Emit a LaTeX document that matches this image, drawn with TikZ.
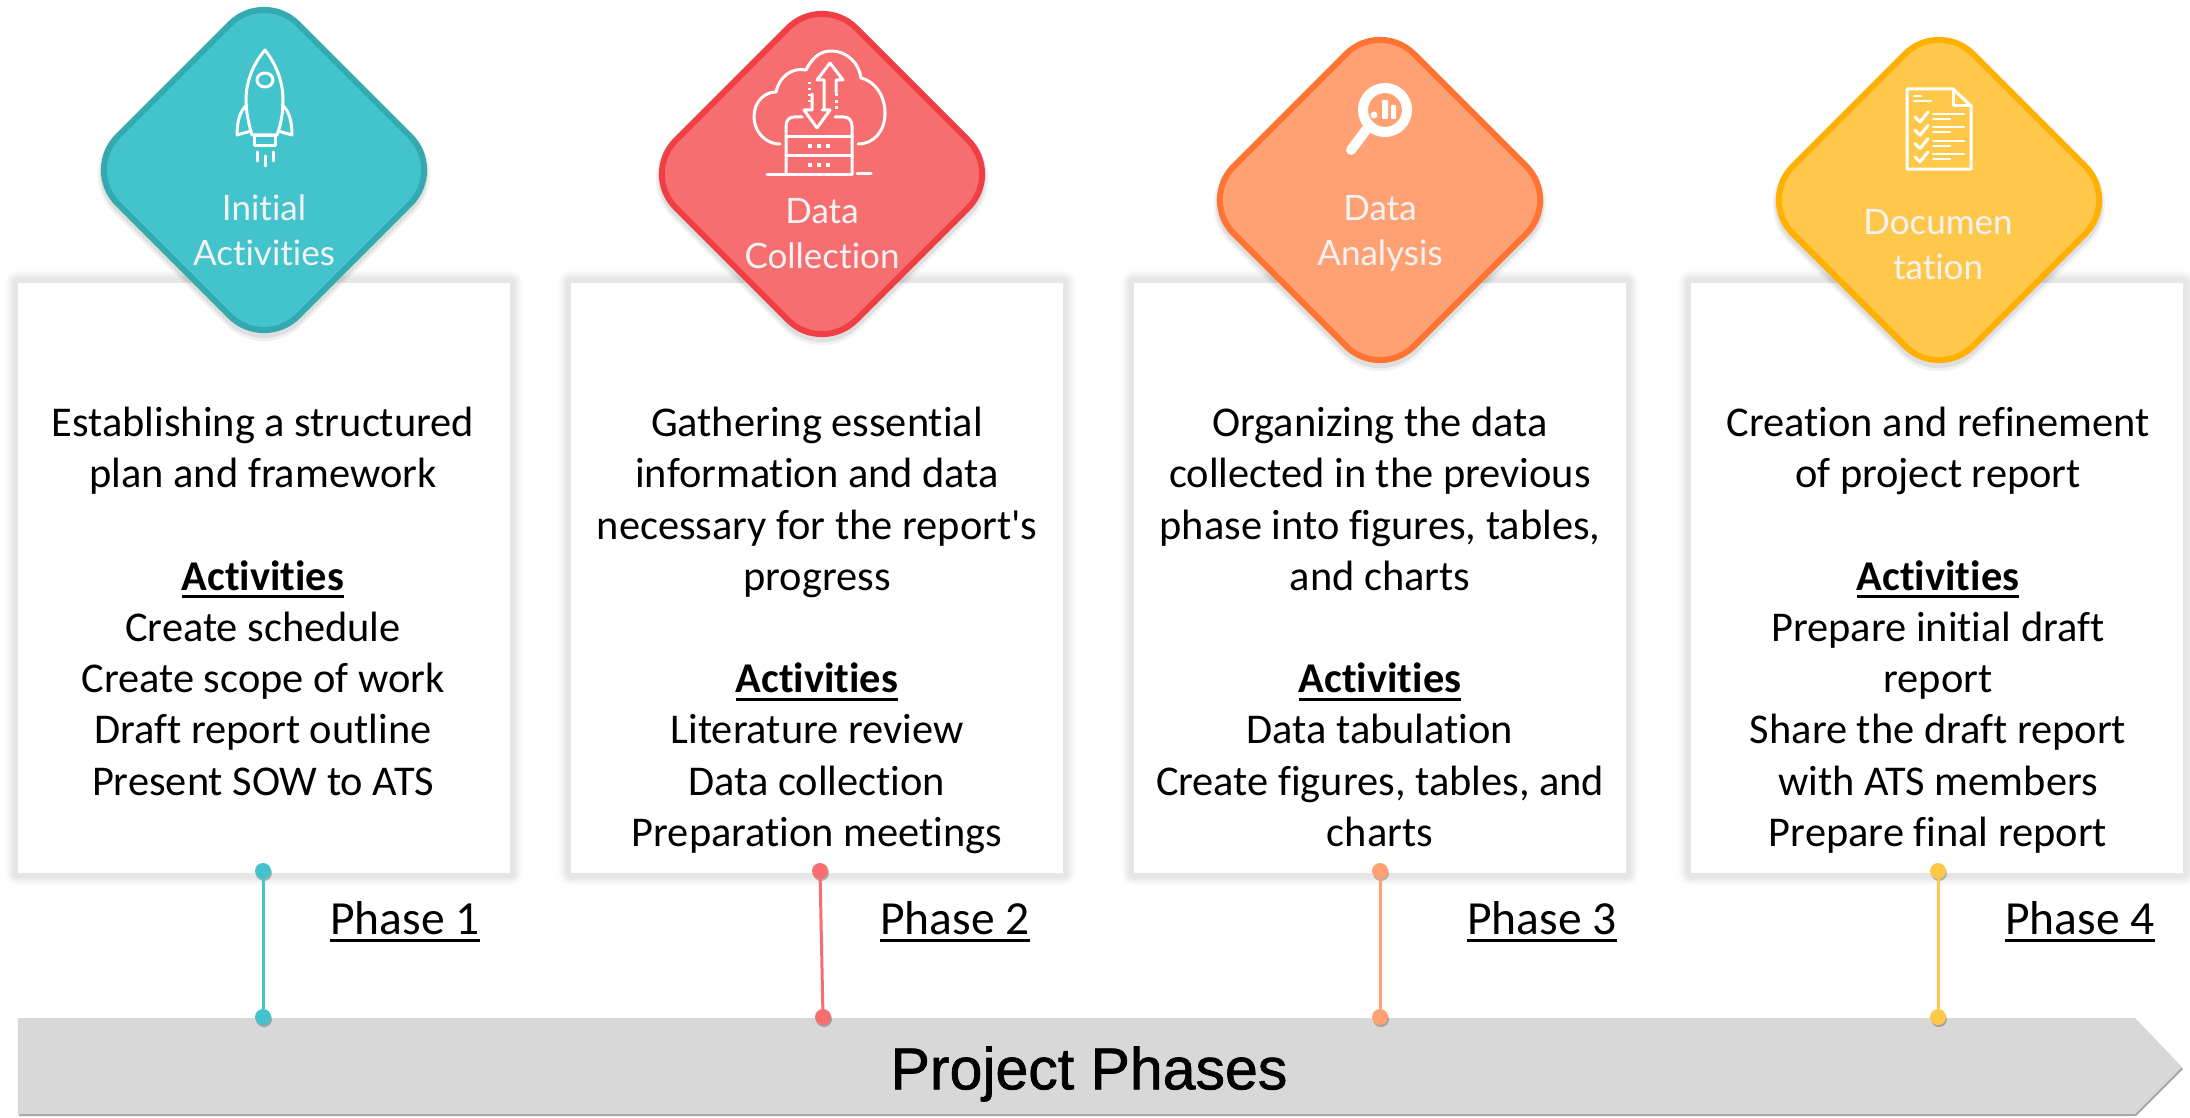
\documentclass[tikz,border=0pt]{standalone}
\usepackage{fontspec}
\setmainfont{Carlito}[Ligatures=NoCommon]
\newfontfamily\diamondfont{Lato}[Ligatures=NoCommon]
\newfontfamily\bandfont{Liberation Sans}[FakeBold=1.2]
\usetikzlibrary{shapes.geometric,positioning}
\definecolor{tealfill}{HTML}{43C3CB}
\definecolor{tealedge}{HTML}{33A9B0}
\definecolor{redfill}{HTML}{F66E70}
\definecolor{rededge}{HTML}{EF3F44}
\definecolor{orangefill}{HTML}{FFA173}
\definecolor{orangeedge}{HTML}{FF7433}
\definecolor{yellowfill}{HTML}{FFC84B}
\definecolor{yellowedge}{HTML}{FFB000}
\definecolor{bandgray}{HTML}{D8D8D8}
\definecolor{labelwhite}{HTML}{F2F2F2}
\tikzstyle{boxglow} = [preaction={draw=black,opacity=0.012,line width=26pt},preaction={draw=black,opacity=0.02,line width=22pt},preaction={draw=black,opacity=0.025,line width=18pt},preaction={draw=black,opacity=0.025,line width=14pt},preaction={draw=black,opacity=0.02,line width=10pt}]
\tikzstyle{phasebox} = [rectangle, fill=white, line join=round, minimum width=492pt, minimum height=590pt, inner sep=0pt, outer sep=0pt, boxglow]
\tikzstyle{tilt} = [diamond, aspect=1, minimum width=360pt, minimum height=360pt, inner sep=0pt, outer sep=0pt, rounded corners=48pt, line width=6pt, preaction={draw=black,opacity=0.05,line width=12pt,transform canvas={yshift=-5pt}},preaction={draw=black,opacity=0.08,line width=8pt,transform canvas={yshift=-4pt}}]
\tikzstyle{tiltlabel} = [text=labelwhite, align=center, inner sep=0pt, font=\diamondfont\fontsize{35}{45}\selectfont]
\tikzstyle{bodytext} = [align=center, anchor=north, inner sep=0pt, font=\fontsize{42.4}{51.2}\selectfont]
\tikzstyle{phaselabel} = [anchor=base, inner sep=0pt, font=\fontsize{47.5}{50}\selectfont]
\tikzstyle{pin} = [circle, minimum size=16pt, inner sep=0pt, outer sep=0pt, preaction={fill=black,opacity=0.25,transform canvas={xshift=1pt,yshift=-2pt}}]
\tikzstyle{stem} = [draw, line width=3pt]
\tikzstyle{band} = [fill=bandgray, preaction={fill=black!35,transform canvas={xshift=1pt,yshift=-2pt}}]
\tikzstyle{icon} = [draw=white, line width=3pt, line cap=round, line join=round]
\tikzstyle{iconfill} = [fill=white, draw=none]
\newcommand{\ultext}[2]{\setbox0=\hbox{#2}\rlap{\rule[-#1]{\wd0}{3pt}}\box0}
\newcommand{\phasebox}[2]{node (b#1) [phasebox] {#2}}
\newcommand{\tilt}[3]{node (d#1) [tilt, fill=#2fill, draw=#2edge] {#3}}
\newcommand{\tiltlabel}[2]{node (l#1) [tiltlabel] {#2}}
\newcommand{\bodytext}[2]{node (t#1) [bodytext] {#2}}
\newcommand{\phaselabel}[2]{node (n#1) [phaselabel] {\ultext{8pt}{#2}}}
\newcommand{\pin}[2]{node (#1) [pin, fill=#2fill] {}}
\newcommand{\activities}{\textbf{\ultext{8pt}{Activities}}}

\begin{document}
\begin{tikzpicture}[x=100pt,y=100pt]
\useasboundingbox (0,0) rectangle (21.9,-11.18);
% Arrow along the bottom
\path [band] (0.18,-10.18) -- (21.35,-10.18) -- (21.82,-10.67) -- (21.35,-11.14) -- (0.18,-11.14) -- cycle;
\path (10.89,-10.74) node (title) [font=\bandfont\fontsize{59}{60}\selectfont, inner sep=0pt] {Project Phases};

% Boxes
\path (2.64,-5.78) \phasebox{1}{};
\path (b1)+(5.53,0.0) \phasebox{2}{};
\path (b2)+(5.63,0.0) \phasebox{3}{};
\path (b3)+(5.57,0.0) \phasebox{4}{};

% Diamonds
\path (b1)+(0.0,4.08) \tilt{1}{teal}{};
\path (b2)+(0.05,4.04) \tilt{2}{red}{};
\path (b3)+(0.0,3.78) \tilt{3}{orange}{};
\path (b4)+(0.02,3.78) \tilt{4}{yellow}{};
\path (d1)+(0.0,-0.605) \tiltlabel{1}{Initial\\ Activities};
\path (d2)+(0.0,-0.60) \tiltlabel{2}{Data\\ Collection};
\path (d3)+(0.0,-0.335) \tiltlabel{3}{Data\\ Analysis};
\path (d4)+(-0.01,-0.445) \tiltlabel{4}{Documen\\ tation};

% Rocket
\begin{scope}[shift={(d1)},x=1pt,y=1pt]
\draw [icon] (1,120) .. controls (-10,107) and (-18,90) .. (-18,70) .. controls (-18,58) and (-15,45) .. (-12,35) -- (13,35) .. controls (17,45) and (19,58) .. (19,70) .. controls (19,90) and (11,107) .. (1,120) -- cycle;
\draw [icon] (1,90) ellipse (8 and 7);
\draw [icon] (-17,65) .. controls (-24,60) and (-27,48) .. (-27,35) -- (-13,39);
\draw [icon] (18,65) .. controls (25,60) and (28,48) .. (28,35) -- (14,39);
\draw [icon] (-10,34) rectangle (11,24);
\draw [icon] (-7,18) -- (-7,9);
\draw [icon] (1,14) -- (1,4);
\draw [icon] (9,18) -- (9,9);
\end{scope}

% Cloud and server
\begin{scope}[shift={(d2)},x=1pt,y=1pt]
\draw [icon] (-42,30) .. controls (-58,30) and (-68,44) .. (-68,57) .. controls (-68,72) and (-58,82) .. (-46,82) .. controls (-43,97) and (-30,107) .. (-16,104) .. controls (-10,116) and (-2,123) .. (9,123) .. controls (26,123) and (37,110) .. (39,96) .. controls (53,93) and (63,78) .. (63,61) .. controls (63,43) and (52,30) .. (36,30);
\draw [icon] (-20,57) -- (-28,57) .. controls (-33,57) and (-36,53) .. (-36,48) -- (-36,0);
\draw [icon] (13,57) -- (22,57) .. controls (27,57) and (30,53) .. (30,48) -- (30,0);
\draw [icon] (-36,38) -- (30,38);
\draw [icon] (-36,19) -- (30,19);
\draw [icon] (-55,0) -- (30,0);
\draw [icon] (35,1) -- (49,1);
\draw [icon] (8,111) -- (21,94) -- (14,94) -- (14,82);
\draw [icon] (8,111) -- (-5,94) -- (2,94) -- (2,65);
\draw [icon] (-5,46) -- (8,64) -- (0,64);
\draw [icon] (-5,46) -- (-18,64) -- (-10,64) -- (-10,80);
\foreach \yy in {90,84,78,72} \path [iconfill] (-14.5,\yy) rectangle (-11.5,\yy+2);
\foreach \yy in {78,71,65} \path [iconfill] (12.5,\yy) rectangle (15.5,\yy+3);
\foreach \yy in {28,9} {
\foreach \xx in {-12,-3,6} \path [iconfill] (\xx-2,\yy-2) rectangle (\xx+2,\yy+2);
}
\end{scope}

% Magnifier
\begin{scope}[shift={(d3)},x=1pt,y=1pt]
\draw [draw=white, line width=10pt] (5,90) circle (22);
\draw [draw=white, line width=10pt, line cap=round] (-14,70) -- (-29,50);
\path [iconfill] (-6,85) circle (3.5);
\path [iconfill, rounded corners=1pt] (2,81) rectangle (8,100);
\path [iconfill, rounded corners=1pt] (11,81) rectangle (16,95);
\end{scope}

% Checklist
\begin{scope}[shift={(d4)},x=1pt,y=1pt]
\draw [icon] (-32,111) -- (14,111) -- (32,94) -- (32,31) -- (-32,31) -- cycle;
\draw [icon] (14,111) -- (14,94) -- (32,94);
\draw [icon, line width=2pt] (-25,104) -- (-18,104);
\draw [icon, line width=2pt] (-25,99) -- (-8,99);
\foreach \yy in {0,13.3,26.6,39.9} {
\draw [icon] (-24,83-\yy) -- (-19,78-\yy) -- (-11,88-\yy);
\draw [icon, line width=2pt] (-6,86-\yy) -- (25,86-\yy);
\draw [icon, line width=2pt] (-6,81-\yy) -- (11,81-\yy);
}
\end{scope}

% Box texts
\path (2.63,-4.07) \bodytext{1}{Establishing a structured\\ plan and framework\\[51.2pt] \activities\\ Create schedule\\ Create scope of work\\ Draft report outline\\ Present SOW to ATS};
\path (8.17,-4.07) \bodytext{2}{Gathering essential\\ information and data\\ necessary for the report\textquotesingle s\\ progress\\[51.2pt] \activities\\ Literature review\\ Data collection\\ Preparation meetings};
\path (13.80,-4.07) \bodytext{3}{Organizing the data\\ collected in the previous\\ phase into figures, tables,\\ and charts\\[51.2pt] \activities\\ Data tabulation\\ Create figures, tables, and\\ charts};
\path (19.38,-4.07) \bodytext{4}{Creation and refinement\\ of project report\\[51.2pt] \activities\\ Prepare initial draft\\ report\\ Share the draft report\\ with ATS members\\ Prepare final report};

% Pins and stems
\path (2.63,-8.71) \pin{p1}{teal};
\path (p1)+(0.0,-1.46) \pin{q1}{teal};
\path (8.20,-8.71) \pin{p2}{red};
\path (p2)+(0.03,-1.46) \pin{q2}{red};
\path (13.80,-8.71) \pin{p3}{orange};
\path (p3)+(0.0,-1.46) \pin{q3}{orange};
\path (19.38,-8.71) \pin{p4}{yellow};
\path (p4)+(0.0,-1.46) \pin{q4}{yellow};
\path [stem, tealfill] (p1) -- (q1);
\path [stem, redfill] (p2) -- (q2);
\path [stem, orangefill] (p3) -- (q3);
\path [stem, yellowfill] (p4) -- (q4);

% Phase labels
\path (p1)+(1.42,-0.63) \phaselabel{1}{Phase 1};
\path (p2)+(1.35,-0.63) \phaselabel{2}{Phase 2};
\path (p3)+(1.62,-0.63) \phaselabel{3}{Phase 3};
\path (p4)+(1.42,-0.63) \phaselabel{4}{Phase 4};
\end{tikzpicture}
\end{document}
